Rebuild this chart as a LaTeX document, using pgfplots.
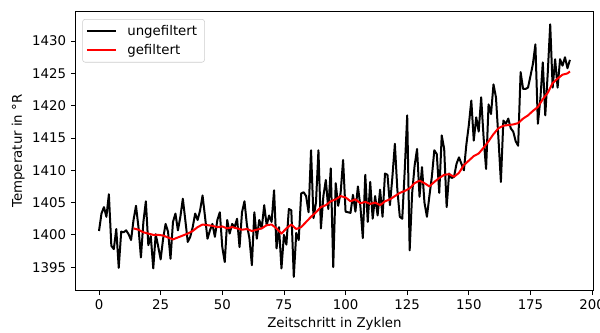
\documentclass[border=0pt]{standalone}
\usepackage{fontspec}
\setmainfont{DejaVu Sans}
\usepackage{pgfplots}
\usepackage{pgfplotstable}
\pgfplotsset{compat=1.18}

% raw temperature per cycle
\pgfplotstableread{
i T
0 1400.6
1 1403.3
2 1404.3
3 1402.8
4 1406.3
5 1398.3
6 1397.8
7 1400.9
8 1394.9
9 1400.5
10 1400.4
11 1400.7
12 1400.1
13 1399.2
14 1402.3
15 1404.5
16 1401.2
17 1396.5
18 1402.0
19 1405.2
20 1398.4
21 1399.8
22 1394.8
23 1400.1
24 1398.2
25 1396.2
26 1399.4
27 1401.7
28 1400.5
29 1396.3
30 1402.0
31 1403.3
32 1400.7
33 1402.8
34 1405.6
35 1402.3
36 1398.9
37 1399.7
38 1401.2
39 1403.3
40 1402.3
41 1403.8
42 1406.1
43 1402.8
44 1399.4
45 1400.7
46 1401.7
47 1399.7
48 1402.3
49 1403.5
50 1398.1
51 1395.8
52 1402.3
53 1400.2
54 1401.7
55 1401.2
56 1402.5
57 1398.1
58 1403.5
59 1405.2
60 1401.5
61 1399.5
62 1395.3
63 1403.5
64 1399.4
65 1402.3
66 1401.0
67 1404.6
68 1401.5
69 1403.0
70 1402.0
71 1406.9
72 1397.9
73 1401.2
74 1394.8
75 1400.0
76 1398.5
77 1404.0
78 1403.8
79 1393.5
80 1400.3
81 1399.2
82 1406.4
83 1406.6
84 1406.0
85 1403.5
86 1413.1
87 1402.6
88 1405.0
89 1413.1
90 1401.0
91 1406.0
92 1408.5
93 1404.0
94 1410.3
95 1395.0
96 1408.0
97 1404.5
98 1406.5
99 1411.6
100 1403.6
101 1403.5
102 1403.4
103 1406.2
104 1403.6
105 1407.5
106 1404.5
107 1399.5
108 1409.3
109 1402.0
110 1408.2
111 1402.5
112 1406.0
113 1403.0
114 1407.0
115 1402.8
116 1409.5
117 1409.3
118 1404.6
119 1409.0
120 1414.1
121 1407.0
122 1402.8
123 1402.5
124 1410.0
125 1418.5
126 1397.6
127 1406.4
128 1410.7
129 1413.3
130 1405.9
131 1410.5
132 1405.0
133 1402.8
134 1406.0
135 1409.0
136 1413.1
137 1412.5
138 1406.5
139 1415.4
140 1413.3
141 1404.3
142 1409.5
143 1408.8
144 1409.0
145 1411.0
146 1412.0
147 1411.0
148 1410.0
149 1414.0
150 1417.0
151 1420.8
152 1414.6
153 1418.2
154 1416.0
155 1421.3
156 1415.0
157 1410.2
158 1420.2
159 1418.7
160 1423.3
161 1421.3
162 1415.0
163 1408.2
164 1417.7
165 1417.2
166 1418.0
167 1416.5
168 1416.0
169 1414.5
170 1413.8
171 1425.2
172 1422.6
173 1422.6
174 1422.8
175 1424.6
176 1426.5
177 1429.5
178 1417.2
179 1421.0
180 1426.7
181 1418.5
182 1425.0
183 1432.6
184 1422.8
185 1427.2
186 1422.8
187 1427.2
188 1426.2
189 1427.5
190 1425.8
191 1427.1
}\rawdata

% smoothed temperature
\pgfplotstableread{
i T
14 1401.0
16 1400.8
18 1400.4
20 1400.2
22 1400.0
24 1400.0
26 1399.9
28 1399.6
30 1399.3
32 1399.6
34 1399.9
36 1400.2
38 1400.6
40 1401.2
42 1401.6
44 1401.5
46 1401.4
48 1401.2
50 1401.3
52 1401.0
54 1401.2
56 1401.0
58 1400.8
60 1400.9
62 1400.6
64 1400.8
66 1401.0
68 1401.5
70 1401.6
72 1401.0
74 1400.2
76 1401.0
78 1401.6
80 1400.9
82 1401.2
84 1402.0
86 1402.8
88 1403.5
90 1404.3
92 1404.6
94 1405.2
96 1405.5
98 1406.0
100 1405.8
102 1405.2
104 1405.5
106 1404.9
108 1405.1
110 1404.8
112 1405.0
114 1404.6
116 1405.2
118 1405.5
120 1406.0
122 1406.5
124 1406.8
126 1407.2
128 1408.0
130 1408.4
132 1408.0
134 1407.5
136 1408.2
138 1408.8
140 1409.3
142 1409.4
144 1409.0
146 1409.6
148 1410.8
150 1411.5
152 1412.2
154 1412.6
156 1413.5
158 1414.5
160 1415.6
162 1416.5
164 1416.9
166 1417.0
168 1417.1
170 1417.3
172 1418.0
174 1418.5
176 1419.2
178 1419.8
180 1421.0
182 1422.0
184 1423.5
186 1424.2
188 1424.8
190 1425.0
191 1425.3
}\filtdata

\begin{document}
\begin{tikzpicture}
\useasboundingbox (-56.6pt,-31.3pt) rectangle (393.4pt,217.8pt);
\begin{axis}[
  at={(0,0)}, anchor=south west,
  scale only axis, width=388.5pt, height=209pt,
  xmin=-9.55, xmax=200.55,
  ymin=1391.4, ymax=1434.55,
  xtick={0,25,...,200},
  ytick={1395,1400,...,1430},
  font=\fontsize{10}{12}\selectfont,
  /pgf/number format/assume math mode=true,
  /pgf/number format/1000 sep={},
  tick align=outside,
  major tick length=3.5pt,
  tick style={black, line width=0.6pt},
  axis line style={black, line width=0.6pt},
  xtick pos=bottom, ytick pos=left,
  xlabel={Zeitschritt in Zyklen},
  ylabel={Temperatur in °R},
  every axis x label/.style={at={(rel axis cs:0.5,0)}, anchor=base, yshift=-27.9pt},
  every axis y label/.style={at={(rel axis cs:0,0.5)}, xshift=-43pt, rotate=90, anchor=center},
  legend cell align=left,
  legend image code/.code={\draw[#1] (0pt,0pt) -- (21.5pt,0pt);},
  legend style={at={(0,1)}, anchor=north west, xshift=5.1pt, yshift=-5.5pt,
    draw=black!20, rounded corners=2pt, fill=white,
    inner xsep=2.6pt, inner ysep=2pt,
    nodes={inner ysep=2.5pt, inner xsep=3pt},
    /tikz/every odd column/.append style={column sep=5pt},
    font=\fontsize{10}{12}\selectfont},
]
\addplot[black, line width=1.5pt, line join=round] table[x=i, y=T] {\rawdata};
\addlegendentry{ungefiltert}
\addplot[red, line width=1.5pt, line join=round] table[x=i, y=T] {\filtdata};
\addlegendentry{gefiltert}
\end{axis}
\end{tikzpicture}
\end{document}
